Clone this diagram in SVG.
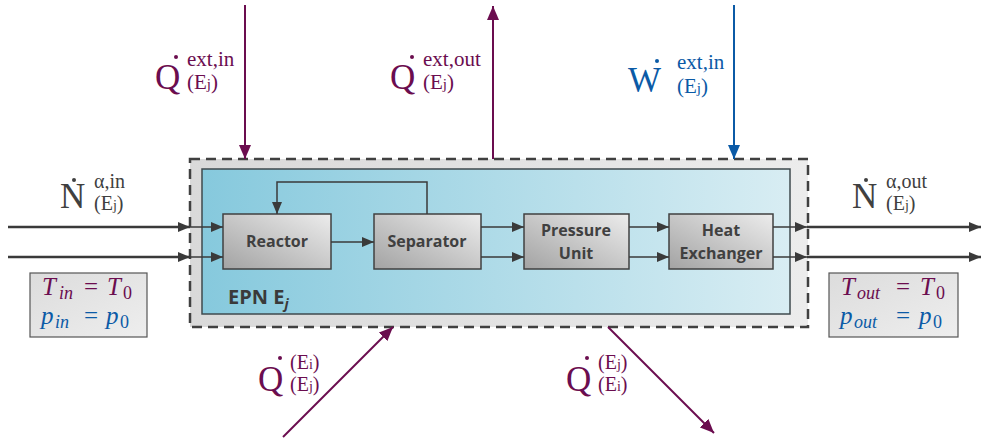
<svg xmlns="http://www.w3.org/2000/svg" width="981" height="439" viewBox="0 0 981 439">
<defs>
<linearGradient id="gOuter" x1="0" y1="0" x2="1" y2="0"><stop offset="0" stop-color="#d9d9d9"/><stop offset="1" stop-color="#ececec"/></linearGradient>
<linearGradient id="gBlue" x1="0" y1="0" x2="1" y2="0"><stop offset="0" stop-color="#86c9dd"/><stop offset="1" stop-color="#d8edf3"/></linearGradient>
<linearGradient id="gBox" x1="0" y1="1" x2="1" y2="0"><stop offset="0" stop-color="#a3a3a3"/><stop offset="1" stop-color="#ececec"/></linearGradient>
<linearGradient id="gT" x1="0" y1="0" x2="1" y2="1"><stop offset="0" stop-color="#dcdcdc"/><stop offset="1" stop-color="#eeeeee"/></linearGradient>
<marker id="aG" markerUnits="userSpaceOnUse" markerWidth="12" markerHeight="10" refX="12" refY="5" orient="auto"><path d="M0,0 L12,5 L0,10 Z" fill="#3a3a3a"/></marker>
<marker id="aP" markerUnits="userSpaceOnUse" markerWidth="14" markerHeight="12" refX="14" refY="6" orient="auto"><path d="M0,0 L14,6 L0,12 Z" fill="#6b0d4f"/></marker>
<marker id="aB" markerUnits="userSpaceOnUse" markerWidth="14" markerHeight="12" refX="14" refY="6" orient="auto"><path d="M0,0 L14,6 L0,12 Z" fill="#0b5aa6"/></marker>
</defs>
<style>
.box{fill:url(#gBox);stroke:#404040;stroke-width:1.5}
.bt{font-family:"Open Sans","Liberation Sans",sans-serif;font-weight:bold;font-size:16px;fill:#404040;text-anchor:middle}
.ln{stroke:#3a3a3a;stroke-width:1.5;fill:none}
.lo{stroke:#3a3a3a;stroke-width:2.5;fill:none}
.big{font-family:"Liberation Serif",serif;font-size:35px}
.sm{font-family:"Liberation Serif",serif;font-size:21px}
.sm2{font-family:"Liberation Serif",serif;font-size:20px}
.m{font-family:"Liberation Serif",serif;font-size:25px}
.i{font-style:italic}
.s{font-size:18px}
.pu{fill:#6b0d4f}.bl{fill:#0b5aa6}.gy{fill:#404040}
</style>
<g id="system">
<rect x="190" y="159" width="618" height="168" fill="url(#gOuter)" stroke="#404040" stroke-width="2.5" stroke-dasharray="10,6"/>
<rect x="202" y="169" width="588" height="145" fill="url(#gBlue)" stroke="#3f4a4e" stroke-width="1.5"/>
<text x="228" y="304" font-family="'Open Sans','Liberation Sans',sans-serif" font-weight="bold" font-size="20" fill="#3a3a3a">EPN E<tspan font-size="14" font-style="italic" dy="5">j</tspan></text>
</g>
<g id="reactor"><rect class="box" x="223" y="214" width="108" height="55"/><text class="bt" x="277" y="247">Reactor</text></g>
<g id="separator"><rect class="box" x="374" y="214" width="107" height="55"/><text class="bt" x="427" y="247">Separator</text></g>
<g id="pressure"><rect class="box" x="524" y="214" width="105" height="55"/><text class="bt" x="576" y="236">Pressure</text><text class="bt" x="576" y="259">Unit</text></g>
<g id="hx"><rect class="box" x="669" y="214" width="104" height="55"/><text class="bt" x="721" y="236">Heat</text><text class="bt" x="721" y="259">Exchanger</text></g>
<g id="connectors">
<line class="lo" x1="8" y1="227" x2="190" y2="227" marker-end="url(#aG)"/>
<line class="lo" x1="8" y1="257" x2="190" y2="257" marker-end="url(#aG)"/>
<line class="ln" x1="190" y1="227" x2="223" y2="227" marker-end="url(#aG)"/>
<line class="ln" x1="190" y1="257" x2="223" y2="257" marker-end="url(#aG)"/>
<line class="ln" x1="331" y1="242" x2="374" y2="242" marker-end="url(#aG)"/>
<polyline class="ln" points="427,214 427,182 277,182 277,214" marker-end="url(#aG)"/>
<line class="ln" x1="481" y1="227" x2="524" y2="227" marker-end="url(#aG)"/>
<line class="ln" x1="481" y1="257" x2="524" y2="257" marker-end="url(#aG)"/>
<line class="ln" x1="629" y1="227" x2="669" y2="227" marker-end="url(#aG)"/>
<line class="ln" x1="629" y1="257" x2="669" y2="257" marker-end="url(#aG)"/>
<line class="ln" x1="773" y1="227" x2="807" y2="227" marker-end="url(#aG)"/>
<line class="ln" x1="773" y1="257" x2="807" y2="257" marker-end="url(#aG)"/>
<line class="lo" x1="807" y1="227" x2="981" y2="227" marker-end="url(#aG)"/>
<line class="lo" x1="807" y1="257" x2="981" y2="257" marker-end="url(#aG)"/>
<line stroke="#6b0d4f" stroke-width="2" x1="245" y1="5" x2="245" y2="159" marker-end="url(#aP)"/>
<line stroke="#6b0d4f" stroke-width="2" x1="493" y1="159" x2="493" y2="6" marker-end="url(#aP)"/>
<line stroke="#0b5aa6" stroke-width="2" x1="734" y1="5" x2="734" y2="159" marker-end="url(#aB)"/>
<line stroke="#6b0d4f" stroke-width="2" x1="283" y1="437" x2="393" y2="327" marker-end="url(#aP)"/>
<line stroke="#6b0d4f" stroke-width="2" x1="608" y1="327" x2="714" y2="433" marker-end="url(#aP)"/>
</g>
<g id="labels">
<text class="big gy" x="60" y="208" font-size="32">N</text><circle cx="74" cy="180" r="2" fill="#404040"/>
<text class="sm2 gy"><tspan x="94" y="188">α,in</tspan><tspan x="94" y="210">(E<tspan font-size="14">j</tspan>)</tspan></text>
<text class="big gy" x="852" y="208" font-size="32">N</text><circle cx="866" cy="180" r="2" fill="#404040"/>
<text class="sm2 gy"><tspan x="886" y="188">α,out</tspan><tspan x="886" y="210">(E<tspan font-size="14">j</tspan>)</tspan></text>
<text class="big pu" x="155" y="89">Q</text><circle cx="176" cy="57" r="2" fill="#6b0d4f"/>
<text class="sm pu"><tspan x="187" y="66">ext,in</tspan><tspan x="187" y="89">(E<tspan font-size="15">j</tspan>)</tspan></text>
<text class="big pu" x="390" y="89">Q</text><circle cx="412" cy="57" r="2" fill="#6b0d4f"/>
<text class="sm pu"><tspan x="423" y="66">ext,out</tspan><tspan x="423" y="89">(E<tspan font-size="15">j</tspan>)</tspan></text>
<text class="big bl" x="628" y="92">W</text><circle cx="657" cy="61" r="2" fill="#0b5aa6"/>
<text class="sm bl"><tspan x="677" y="69">ext,in</tspan><tspan x="677" y="93">(E<tspan font-size="15">j</tspan>)</tspan></text>
<text class="big pu" x="258" y="391">Q</text><circle cx="280" cy="358" r="2" fill="#6b0d4f"/>
<text class="sm2 pu"><tspan x="290" y="369">(E<tspan font-size="14">i</tspan>)</tspan><tspan x="290" y="391">(E<tspan font-size="14">j</tspan>)</tspan></text>
<text class="big pu" x="566" y="391">Q</text><circle cx="587" cy="358" r="2" fill="#6b0d4f"/>
<text class="sm2 pu"><tspan x="598" y="369">(E<tspan font-size="14">j</tspan>)</tspan><tspan x="598" y="391">(E<tspan font-size="14">i</tspan>)</tspan></text>
</g>
<g id="tin">
<rect x="30" y="273" width="117" height="64" fill="url(#gT)" stroke="#555" stroke-width="1.2"/>
<text class="m pu"><tspan class="i" x="42" y="295">T</tspan><tspan class="i s" x="59" y="299">in</tspan><tspan x="84" y="295">=</tspan><tspan class="i" x="107" y="295">T</tspan><tspan class="s" x="123" y="299">0</tspan></text>
<text class="m bl"><tspan class="i" x="41" y="324">p</tspan><tspan class="i s" x="55" y="328">in</tspan><tspan x="84" y="324">=</tspan><tspan class="i" x="106" y="324">p</tspan><tspan class="s" x="120" y="328">0</tspan></text>
</g>
<g id="tout">
<rect x="829" y="273" width="129" height="64" fill="url(#gT)" stroke="#555" stroke-width="1.2"/>
<text class="m pu"><tspan class="i" x="841" y="295">T</tspan><tspan class="i s" x="857" y="299">out</tspan><tspan x="896" y="295">=</tspan><tspan class="i" x="920" y="295">T</tspan><tspan class="s" x="936" y="299">0</tspan></text>
<text class="m bl"><tspan class="i" x="840" y="324">p</tspan><tspan class="i s" x="854" y="328">out</tspan><tspan x="896" y="324">=</tspan><tspan class="i" x="919" y="324">p</tspan><tspan class="s" x="933" y="328">0</tspan></text>
</g>
</svg>
